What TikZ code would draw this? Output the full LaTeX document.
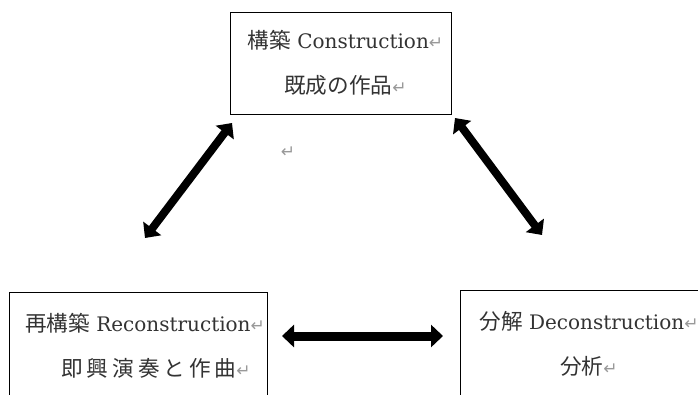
\documentclass[tikz,border=0pt]{standalone}
\usepackage{fontspec}
\setmainfont{DejaVu Serif}
\newfontfamily\jp[Scale=1.08]{Noto Sans CJK JP}
\newfontfamily\symf{DejaVu Sans}
\usetikzlibrary{arrows.meta}
\newcommand{\ret}{{\symf\fontsize{17}{17}\selectfont\color{gray!80}↵}}
\newcommand{\jk}{\kern4pt}
\begin{document}
\begin{tikzpicture}[x=1pt,y=-1pt,
  box/.style={draw=black,line width=0.9pt,align=center,inner sep=0pt,
    font=\fontsize{20}{45}\selectfont,text=black!80},
  dbl/.style={line width=8pt,{Triangle[width=22pt,length=12pt]}-{Triangle[width=22pt,length=12pt]}}]
\useasboundingbox (0,0) rectangle (698,394);
\clip (0,0) rectangle (698,394);
\node[box,minimum width=221pt,minimum height=102pt] (con) at (340.5,63)
  {\hspace*{10pt}{\jp 構築} Construction\ret\\\hspace*{10pt}{\jp 既成の作品}\ret};
\node[box,minimum width=258pt,minimum height=108pt] (rec) at (138,346)
  {\hspace*{14pt}{\jp 再構築} Reconstruction\ret\\\hspace*{36pt}{\jp 即\jk 興\jk 演\jk 奏\jk と\jk 作\jk 曲}\ret};
\node[box,minimum width=258pt,minimum height=108pt] (dec) at (589,344)
  {{\jp 分解} Deconstruction\ret\\{\jp 分析}\ret};
\node (stray) at (288,152) {\ret};
\coordinate (la1) at (145,238);
\coordinate (la2) at (232,123);
\coordinate (ra1) at (455,118);
\coordinate (ra2) at (542,235);
\coordinate (ha1) at (282,336);
\coordinate (ha2) at (443,336);
\draw[dbl] (la1) -- (la2);
\draw[dbl] (ra1) -- (ra2);
\draw[dbl,line width=9pt] (ha1) -- (ha2);
\end{tikzpicture}
\end{document}
